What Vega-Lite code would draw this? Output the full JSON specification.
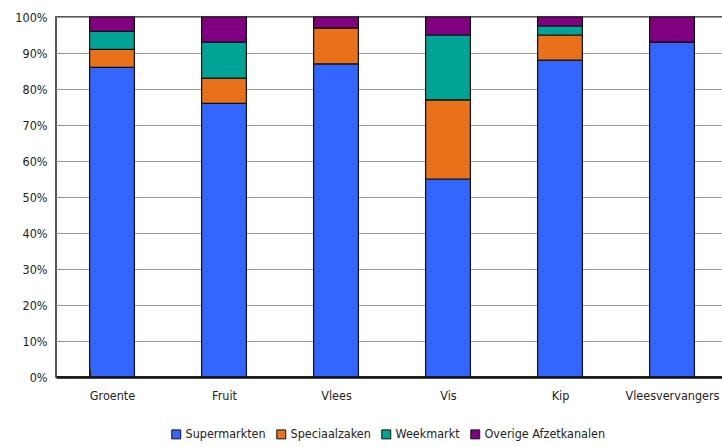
{
  "$schema": "https://vega.github.io/schema/vega-lite/v6.json",
  "width": 672,
  "height": 360,
  "autosize": {"type": "none"},
  "padding": {"left": 56, "top": 17, "right": 0, "bottom": 70},
  "background": "white",
  "config": {
    "font": "Liberation Sans Narrow, DejaVu Sans Condensed, Roboto Condensed, Arial Narrow, sans-serif",
    "view": {"stroke": "#222", "strokeWidth": 1.5}
  },
  "data": {
    "values": [
      {"product": "Groente", "kanaal": "Supermarkten", "o": 1, "pct": 86},
      {"product": "Groente", "kanaal": "Speciaalzaken", "o": 2, "pct": 5},
      {"product": "Groente", "kanaal": "Weekmarkt", "o": 3, "pct": 5},
      {"product": "Groente", "kanaal": "Overige Afzetkanalen", "o": 4, "pct": 4},
      {"product": "Fruit", "kanaal": "Supermarkten", "o": 1, "pct": 76},
      {"product": "Fruit", "kanaal": "Speciaalzaken", "o": 2, "pct": 7},
      {"product": "Fruit", "kanaal": "Weekmarkt", "o": 3, "pct": 10},
      {"product": "Fruit", "kanaal": "Overige Afzetkanalen", "o": 4, "pct": 7},
      {"product": "Vlees", "kanaal": "Supermarkten", "o": 1, "pct": 87},
      {"product": "Vlees", "kanaal": "Speciaalzaken", "o": 2, "pct": 10},
      {"product": "Vlees", "kanaal": "Weekmarkt", "o": 3, "pct": 0},
      {"product": "Vlees", "kanaal": "Overige Afzetkanalen", "o": 4, "pct": 3},
      {"product": "Vis", "kanaal": "Supermarkten", "o": 1, "pct": 55},
      {"product": "Vis", "kanaal": "Speciaalzaken", "o": 2, "pct": 22},
      {"product": "Vis", "kanaal": "Weekmarkt", "o": 3, "pct": 18},
      {"product": "Vis", "kanaal": "Overige Afzetkanalen", "o": 4, "pct": 5},
      {"product": "Kip", "kanaal": "Supermarkten", "o": 1, "pct": 88},
      {"product": "Kip", "kanaal": "Speciaalzaken", "o": 2, "pct": 7},
      {"product": "Kip", "kanaal": "Weekmarkt", "o": 3, "pct": 2.5},
      {"product": "Kip", "kanaal": "Overige Afzetkanalen", "o": 4, "pct": 2.5},
      {"product": "Vleesvervangers", "kanaal": "Supermarkten", "o": 1, "pct": 93},
      {"product": "Vleesvervangers", "kanaal": "Speciaalzaken", "o": 2, "pct": 0},
      {"product": "Vleesvervangers", "kanaal": "Weekmarkt", "o": 3, "pct": 0},
      {"product": "Vleesvervangers", "kanaal": "Overige Afzetkanalen", "o": 4, "pct": 7}
    ]
  },
  "mark": {"type": "bar", "stroke": "#111", "strokeWidth": 1.2},
  "encoding": {
    "x": {
      "field": "product",
      "type": "nominal",
      "sort": null,
      "scale": {"paddingInner": 0.6, "paddingOuter": 0.3},
      "axis": {
        "title": null,
        "zindex": 1,
        "labelAngle": 0,
        "labelFontSize": 12.5,
        "labelColor": "#222",
        "labelPadding": 20,
        "ticks": true,
        "tickBand": "extent",
        "tickSize": -8,
        "tickColor": "#222",
        "tickWidth": 1.2,
        "tickOpacity": 1,
        "domainColor": "#111",
        "domainWidth": 2.5
      }
    },
    "y": {
      "field": "pct",
      "type": "quantitative",
      "stack": "zero",
      "scale": {"domain": [0, 100], "nice": false},
      "axis": {
        "title": null,
        "values": [0, 10, 20, 30, 40, 50, 60, 70, 80, 90, 100],
        "labelExpr": "datum.value + '%'",
        "labelFontSize": 12.5,
        "labelColor": "#222",
        "labelPadding": 9,
        "ticks": false,
        "domain": false,
        "gridColor": "#999",
        "gridWidth": 1.2
      }
    },
    "color": {
      "field": "kanaal",
      "type": "nominal",
      "scale": {
        "domain": ["Supermarkten", "Speciaalzaken", "Weekmarkt", "Overige Afzetkanalen"],
        "range": ["#3366FF", "#E8711A", "#00A497", "#800080"]
      },
      "legend": {
        "title": null,
        "orient": "none",
        "legendX": 114,
        "legendY": 411,
        "direction": "horizontal",
        "symbolType": "square",
        "symbolSize": 80,
        "symbolStrokeColor": "#111",
        "symbolStrokeWidth": 1,
        "labelFontSize": 12.5,
        "labelColor": "#222",
        "columnPadding": 8,
        "symbolOffset": 0,
        "labelOffset": 3
      }
    },
    "order": {"field": "o", "type": "quantitative"}
  }
}
